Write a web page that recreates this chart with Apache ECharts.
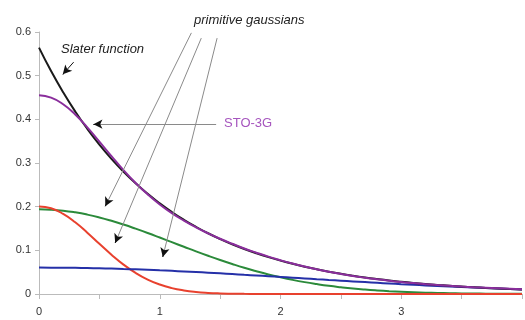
<!DOCTYPE html>
<html>
<head>
<meta charset="utf-8">
<script src="https://cdn.jsdelivr.net/npm/echarts@6/dist/echarts.min.js"></script>
<style>
  html, body { margin: 0; padding: 0; background: #fff; }
  #main { width: 525px; height: 320px; }
</style>
</head>
<body>
<div id="main"></div>
<script>
// r values (bohr)
var rValues = [0, 0.1, 0.2, 0.3, 0.4, 0.5, 0.6, 0.7, 0.8, 0.9,
  1.0, 1.1, 1.2, 1.3, 1.4, 1.5, 1.6, 1.7, 1.8, 1.9,
  2.0, 2.1, 2.2, 2.3, 2.4, 2.5, 2.6, 2.7, 2.8, 2.9,
  3.0, 3.1, 3.2, 3.3, 3.4, 3.5, 3.6, 3.7, 3.8, 3.9, 4.0];

var slater = [0.5642, 0.5105, 0.4619, 0.4180, 0.3782, 0.3422, 0.3096, 0.2802, 0.2535, 0.2294,
  0.2076, 0.1878, 0.1699, 0.1538, 0.1391, 0.1259, 0.1139, 0.1031, 0.0933, 0.0844,
  0.0764, 0.0691, 0.0625, 0.0566, 0.0512, 0.0463, 0.0419, 0.0379, 0.0343, 0.0310,
  0.0281, 0.0254, 0.0230, 0.0208, 0.0188, 0.0170, 0.0154, 0.0139, 0.0126, 0.0114, 0.0103];

var sto3g = [0.4551, 0.4498, 0.4346, 0.4111, 0.3817, 0.3491, 0.3158, 0.2836, 0.2542, 0.2281,
  0.2051, 0.1852, 0.1680, 0.1526, 0.1389, 0.1265, 0.1151, 0.1043, 0.0946, 0.0855,
  0.0773, 0.0697, 0.0628, 0.0565, 0.0508, 0.0459, 0.0413, 0.0373, 0.0337, 0.0304,
  0.0275, 0.0250, 0.0226, 0.0206, 0.0188, 0.0171, 0.0156, 0.0143, 0.0130, 0.0118, 0.0107];

var gaussRed = [0.2006, 0.1962, 0.1835, 0.1642, 0.1405, 0.1149, 0.0900, 0.0673, 0.0482, 0.0330,
  0.0216, 0.0135, 0.0081, 0.0046, 0.0025, 0.0013, 0.0007, 0.0003, 0.0001, 0,
  0, 0, 0, 0, 0, 0, 0, 0, 0, 0,
  0, 0, 0, 0, 0, 0, 0, 0, 0, 0, 0];

var gaussGreen = [0.1940, 0.1932, 0.1909, 0.1870, 0.1818, 0.1753, 0.1676, 0.1590, 0.1496, 0.1397,
  0.1293, 0.1187, 0.1082, 0.0977, 0.0876, 0.0779, 0.0687, 0.0600, 0.0521, 0.0448,
  0.0383, 0.0324, 0.0272, 0.0227, 0.0187, 0.0154, 0.0125, 0.0101, 0.0081, 0.0064,
  0.0050, 0.0039, 0.0030, 0.0023, 0.0018, 0.0013, 0.0010, 0.0008, 0.0006, 0.0004, 0.0003];

var gaussBlue = [0.0605, 0.0604, 0.0602, 0.0599, 0.0594, 0.0589, 0.0582, 0.0573, 0.0564, 0.0554,
  0.0542, 0.0530, 0.0517, 0.0503, 0.0488, 0.0473, 0.0457, 0.0440, 0.0424, 0.0407,
  0.0390, 0.0373, 0.0356, 0.0338, 0.0321, 0.0305, 0.0288, 0.0272, 0.0256, 0.0240,
  0.0225, 0.0211, 0.0196, 0.0183, 0.0170, 0.0158, 0.0146, 0.0135, 0.0124, 0.0114, 0.0104];

var xTickLabels = ['0', '1', '2', '3'];
var yTickLabels = ['0', '0.1', '0.2', '0.3', '0.4', '0.5', '0.6'];

function pairs(ys) {
  return rValues.map(function (r, i) { return [r, ys[i]]; });
}

function curve(name, ys, color) {
  return {
    name: name,
    type: 'line',
    data: pairs(ys),
    showSymbol: false,
    smooth: true,
    lineStyle: { color: color, width: 2 },
    itemStyle: { color: color }
  };
}

// annotation arrows (data coordinates): gray shaft, black head
var arrows = [
  { from: [1.262, 0.598], to: [0.549, 0.201], shaft: '#8a8a8a' },
  { from: [1.344, 0.586], to: [0.631, 0.117], shaft: '#8a8a8a' },
  { from: [1.475, 0.586], to: [1.025, 0.085], shaft: '#8a8a8a' },
  { from: [1.467, 0.389], to: [0.451, 0.389], shaft: '#8a8a8a' },
  { from: [0.287, 0.531], to: [0.197, 0.503], shaft: '#111111' }
];

var arrowLines = [];
arrows.forEach(function (a) {
  arrowLines.push([{ coord: a.from, symbol: 'none', lineStyle: { color: a.shaft } }, { coord: a.to, symbol: 'none' }]);
  var back = [a.to[0] + (a.from[0] - a.to[0]) * 0.03, a.to[1] + (a.from[1] - a.to[1]) * 0.03];
  arrowLines.push([{ coord: back, lineStyle: { color: '#111111' } }, { coord: a.to }]);
});

var myChart = echarts.init(document.getElementById('main'));

var option = {
  animation: false,
  grid: { left: 39, top: 32, right: -2, bottom: 26 },
  xAxis: {
    type: 'value',
    min: 0,
    max: 4,
    interval: 0.5,
    axisLine: { lineStyle: { color: '#bbbbbb' } },
    axisTick: { show: true, length: 5, lineStyle: { color: '#bbbbbb' } },
    splitLine: { show: false },
    axisLabel: {
      color: '#333',
      fontFamily: 'Liberation Sans',
      fontSize: 11,
      margin: 12,
      formatter: function (v) {
        var i = xTickLabels.indexOf(String(v));
        return i >= 0 ? xTickLabels[i] : '';
      }
    }
  },
  yAxis: {
    type: 'value',
    min: 0,
    max: 0.6,
    interval: 0.1,
    axisLine: { show: true, lineStyle: { color: '#bbbbbb' } },
    axisTick: { show: true, length: 4, lineStyle: { color: '#bbbbbb' } },
    splitLine: { show: false },
    axisLabel: {
      color: '#333',
      fontFamily: 'Liberation Sans',
      fontSize: 11,
      margin: 8,
      formatter: function (v) {
        return yTickLabels[Math.round(v * 10)];
      }
    }
  },
  series: [
    curve('gaussian 3', gaussGreen, '#2b8a3a'),
    curve('gaussian 1', gaussRed, '#e8412e'),
    curve('gaussian 2', gaussBlue, '#2530a8'),
    curve('Slater function', slater, '#1a1a1a'),
    curve('STO-3G', sto3g, '#8a2e9c'),
    {
      type: 'line',
      data: [],
      silent: true,
      markLine: {
        silent: true,
        symbol: ['none', 'arrow'],
        symbolSize: [7, 9],
        label: { show: false },
        lineStyle: { width: 1, type: 'solid' },
        data: arrowLines
      }
    }
  ],
  graphic: [
    {
      type: 'text', left: 61, top: 43,
      style: { text: 'Slater function', fill: '#222', font: 'italic 13px "Liberation Sans"' }
    },
    {
      type: 'text', left: 194, top: 14,
      style: { text: 'primitive gaussians', fill: '#222', font: 'italic 13px "Liberation Sans"' }
    },
    {
      type: 'text', left: 224, top: 117,
      style: { text: 'STO-3G', fill: '#a655be', font: '13px "Liberation Sans"' }
    }
  ]
};

myChart.setOption(option);
</script>
</body>
</html>
